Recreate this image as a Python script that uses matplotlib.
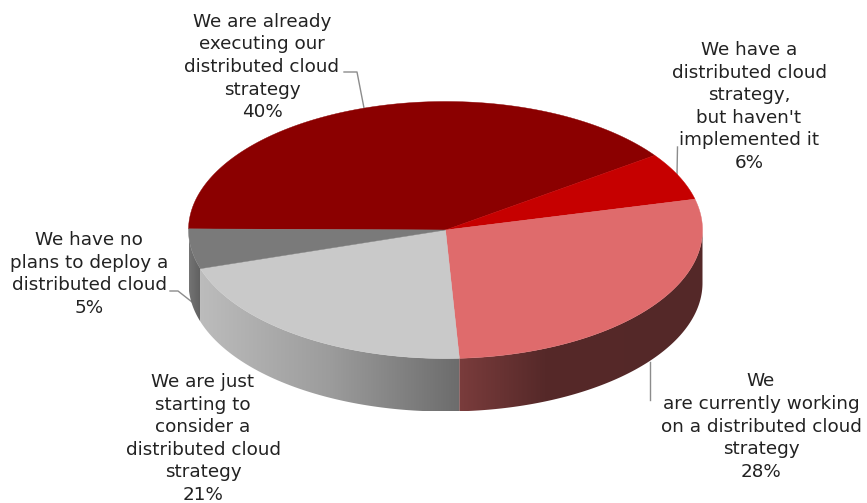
import matplotlib
matplotlib.use("Agg")
import matplotlib.pyplot as plt, numpy as np
from matplotlib.colors import LinearSegmentedColormap
from matplotlib.patches import Polygon

labels = ["We are already\nexecuting our\ndistributed cloud\nstrategy",
          "We have a\ndistributed cloud\nstrategy,\nbut haven't\nimplemented it",
          "We\nare currently working\non a distributed cloud\nstrategy",
          "We are just\nstarting to\nconsider a\ndistributed cloud\nstrategy",
          "We have no\nplans to deploy a\ndistributed cloud"]
shares = [40, 6, 28, 21, 5]
top_colors = ["#8b0000", "#c60000", "#df6b6c", "#c9c9c9", "#7a7a7a"]

W, H = 867, 503
cx, cy, rx, ry = 445.5, 230, 257, 128.5
depth = 53
turn = -0.5

fig = plt.figure(figsize=(W / 100, H / 100), dpi=100)
ax = fig.add_axes([0, 0, 1, 1])

def rim(a0, a1, n=120):
	t = np.radians(np.linspace(a0, a1, n))
	return cx + rx * np.cos(t), cy - ry * np.sin(t)

# slices run clockwise from the left edge
edges = [float(e) + turn for e in 180 - np.cumsum([0] + shares) * 3.6]

# side wall of one slice: gradient image clipped to the rim band
def wall(a0, a1, stops):
	x, y = rim(a0, a1)
	xs = np.r_[x, x[::-1]]
	ys = np.r_[y, y[::-1] + depth]
	cmap = LinearSegmentedColormap.from_list("wall", stops)
	grad = np.linspace(0, 1, 256).reshape(1, -1)
	extent = (xs.min(), xs.max(), ys.max(), ys.min())
	im = ax.imshow(grad, cmap=cmap, extent=extent, aspect="auto", zorder=2)
	band = Polygon(np.c_[xs, ys], closed=True, transform=ax.transData, fc="none", ec="none")
	ax.add_patch(band)
	im.set_clip_path(band)

wall(180, edges[4] + 360, ["#747474", "#5f5f5f"])
wall(edges[4] + 360, edges[3] + 360, ["#bcbcbc", "#9c9c9c", "#6c6c6c"])
wall(edges[3], 0, [(0, "#7a3c3c"), (0.35, "#562929"), (1, "#542828")])

# top face
for i, c in enumerate(top_colors):
	x, y = rim(edges[i], edges[i + 1])
	ax.fill(np.r_[cx, x], np.r_[cy, y], color=c, lw=0.3, zorder=3)

label_xy = [(262, 67), (749, 106.5), (761, 426.5), (203, 438.5), (89, 274)]
for lab, s, (lx, ly) in zip(labels, shares, label_xy):
	ax.text(lx, ly, lab + "\n%d%%" % s, ha="center", va="center", fontsize=13.2,
		color="#222222", linespacing=1.33, zorder=5)

# leader lines
leaders = [([344, 357, 364], [72, 72, 108]),
           ([677.5, 677], [147, 175]),
           ([650, 650], [362, 400]),
           ([170, 178, 192], [291, 291, 302])]
for lx, ly in leaders:
	ax.plot(lx, ly, color="#8c8c8c", lw=1, zorder=1)

ax.set_xlim(0, W)
ax.set_ylim(H, 0)
ax.axis("off")

fig.savefig("out.png", dpi=100)
